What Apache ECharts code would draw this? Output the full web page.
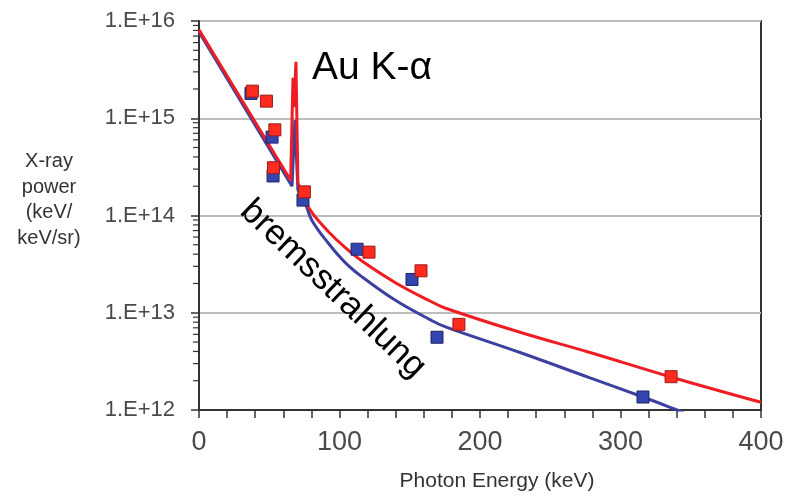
<!DOCTYPE html>
<html>
<head>
<meta charset="utf-8">
<script src="https://cdn.jsdelivr.net/npm/echarts@6/dist/echarts.min.js"></script>
<style>
  html, body { margin: 0; padding: 0; background: #ffffff; }
  #chart { width: 789px; height: 499px; }
</style>
</head>
<body>
<div id="chart"></div>
<script>
// Measured spectra (squares), keV vs keV/keV/sr
const redPtsX = [38, 48, 54, 53, 75, 121, 158, 185, 336];
const redPtsY = [1.9e15, 1.5e15, 7.6e14, 3.1e14, 1.75e14, 4.2e13, 2.7e13, 7.6e12, 2.2e12];

const bluePtsX = [37, 52, 52.7, 74, 112.5, 151.6, 169.4, 316];
const bluePtsY = [1.8e15, 6.4e14, 2.55e14, 1.44e14, 4.5e13, 2.2e13, 5.6e12, 1.36e12];

// Red model, low-energy part including the Au K-alpha line (67-69 keV)
const redEdgeX = [0, 65.2, 66.9, 67.6, 69.0, 70.4];
const redEdgeY = [8.1e15, 2.3e14, 2.6e15, 1.3e15, 3.8e15, 2.16e14];
// Red model, bremsstrahlung continuum above the line
const redTailX = [70.4, 75.4, 80.4, 91.8, 103.9, 116, 139.5, 164.4, 175, 228.5, 278.3, 335.2, 400];
const redTailY = [2.16e14, 1.44e14, 1.07e14, 6.9e13, 4.7e13, 3.4e13, 2.05e13, 1.32e13, 1.12e13, 6.3e12, 3.9e12, 2.2e12, 1.2e12];

// Blue model, low-energy part
const blueEdgeX = [0, 66.2, 68.3, 70.4];
const blueEdgeY = [7.7e15, 2.0e14, 9.6e14, 1.8e14];
// Blue model, continuum
const blueTailX = [70.4, 75.4, 80.4, 91.8, 103.9, 116, 139.5, 164.4, 175, 228.5, 278.3, 316, 338.8, 345];
const blueTailY = [1.8e14, 1.35e14, 8.9e13, 5.25e13, 3.3e13, 2.34e13, 1.35e13, 8.5e12, 7.2e12, 3.9e12, 2.14e12, 1.36e12, 1.02e12, 0.94e12];

// Axis ranges and tick labels
const xTicks = [0, 100, 200, 300, 400];
const yDecades = [12, 13, 14, 15, 16];
const yTickLabels = ['1.E+12', '1.E+13', '1.E+14', '1.E+15', '1.E+16'];

// Minor tick values (2..9 within each decade) for the log axis
const yMinorTicks = [];
for (let d = yDecades[0]; d < yDecades[yDecades.length - 1]; d++) {
  for (let k = 2; k <= 9; k++) yMinorTicks.push([0, k * Math.pow(10, d)]);
}

const zip = (xs, ys) => xs.map((x, i) => [x, ys[i]]);

const FONT = '"Liberation Sans", Arial, Helvetica, sans-serif';
const AXIS_COLOR = '#333333';
const RED = '#ee1d24';
const BLUE = '#3d40a0';

const chart = echarts.init(document.getElementById('chart'), null, { renderer: 'canvas' });

const modelLine = (name, data, color, z, smooth) => ({
  name, type: 'line', z, clip: true,
  data, showSymbol: false, smooth,
  lineStyle: { color, width: 3 }
});

chart.setOption({
  animation: false,
  backgroundColor: '#ffffff',
  grid: {
    left: 199, right: 28, top: 21, bottom: 89,
    show: true, borderColor: AXIS_COLOR, borderWidth: 2, backgroundColor: 'transparent'
  },
  xAxis: {
    type: 'value',
    min: xTicks[0], max: xTicks[xTicks.length - 1], interval: 100,
    axisLine: { show: true, lineStyle: { color: AXIS_COLOR, width: 2 } },
    axisTick: { show: true, inside: false, length: 8, lineStyle: { color: AXIS_COLOR, width: 1.5 } },
    minorTick: { show: true, splitNumber: 5, length: 8, lineStyle: { color: AXIS_COLOR, width: 1.5 } },
    splitLine: { show: false },
    axisLabel: {
      margin: 19, fontSize: 27, fontFamily: FONT, color: '#4a4a4a',
      formatter: v => String(v)
    }
  },
  yAxis: {
    type: 'log', logBase: 10,
    min: Math.pow(10, yDecades[0]), max: Math.pow(10, yDecades[yDecades.length - 1]),
    axisLine: { show: true, lineStyle: { color: AXIS_COLOR, width: 2 } },
    axisTick: { show: true, inside: false, length: 8, lineStyle: { color: AXIS_COLOR, width: 1.5 } },
    splitLine: { show: true, lineStyle: { color: '#bdbdbd', width: 2 } },
    axisLabel: {
      margin: 24, fontSize: 22, fontFamily: FONT, color: '#4a4a4a',
      formatter: v => {
        const e = Math.round(Math.log10(v));
        const i = yDecades.indexOf(e);
        return i >= 0 ? yTickLabels[i] : '';
      }
    }
  },
  graphic: [
    {
      type: 'text', x: 49, y: 200, silent: true,
      style: {
        text: 'X-ray\npower\n(keV/\nkeV/sr)', fill: '#333333',
        fontSize: 20, fontFamily: FONT, lineHeight: 25.5,
        align: 'center', verticalAlign: 'middle'
      }
    },
    {
      type: 'text', x: 497, y: 481, silent: true,
      style: {
        text: 'Photon Energy (keV)', fill: '#333333',
        fontSize: 21, fontFamily: FONT, align: 'center', verticalAlign: 'middle'
      }
    },
    {
      type: 'text', x: 312, y: 68, silent: true, z: 10,
      style: {
        text: 'Au K-\u03b1', fill: '#000000',
        fontSize: 39, fontFamily: FONT, align: 'left', verticalAlign: 'middle'
      }
    },
    {
      type: 'text', x: 333, y: 289, rotation: -43.5 * Math.PI / 180, silent: true, z: 10,
      style: {
        text: 'bremsstrahlung', fill: '#000000',
        fontSize: 35, fontFamily: FONT, align: 'center', verticalAlign: 'middle'
      }
    }
  ],
  series: [
    {
      type: 'custom', silent: true, clip: false, z: 1,
      data: yMinorTicks,
      renderItem: (params, api) => {
        const p = api.coord([api.value(0), api.value(1)]);
        return {
          type: 'line',
          shape: { x1: p[0] - 6, y1: p[1], x2: p[0], y2: p[1] },
          style: { stroke: AXIS_COLOR, lineWidth: 1.2 }
        };
      }
    },
    modelLine('blue model', zip(blueEdgeX, blueEdgeY), BLUE, 2, false),
    modelLine('blue model continuum', zip(blueTailX, blueTailY), BLUE, 2, 0.4),
    modelLine('red model', zip(redEdgeX, redEdgeY), RED, 3, false),
    modelLine('red model continuum', zip(redTailX, redTailY), RED, 3, 0.4),
    {
      name: 'blue data', type: 'scatter', z: 4,
      data: zip(bluePtsX, bluePtsY),
      symbol: 'rect', symbolSize: 12,
      itemStyle: { color: '#3346b0', borderColor: '#1e2368', borderWidth: 1, opacity: 1 }
    },
    {
      name: 'red data', type: 'scatter', z: 5,
      data: zip(redPtsX, redPtsY),
      symbol: 'rect', symbolSize: 12,
      itemStyle: { color: '#ff2b1f', borderColor: '#9c1a1a', borderWidth: 1, opacity: 1 }
    }
  ]
});
</script>
</body>
</html>
